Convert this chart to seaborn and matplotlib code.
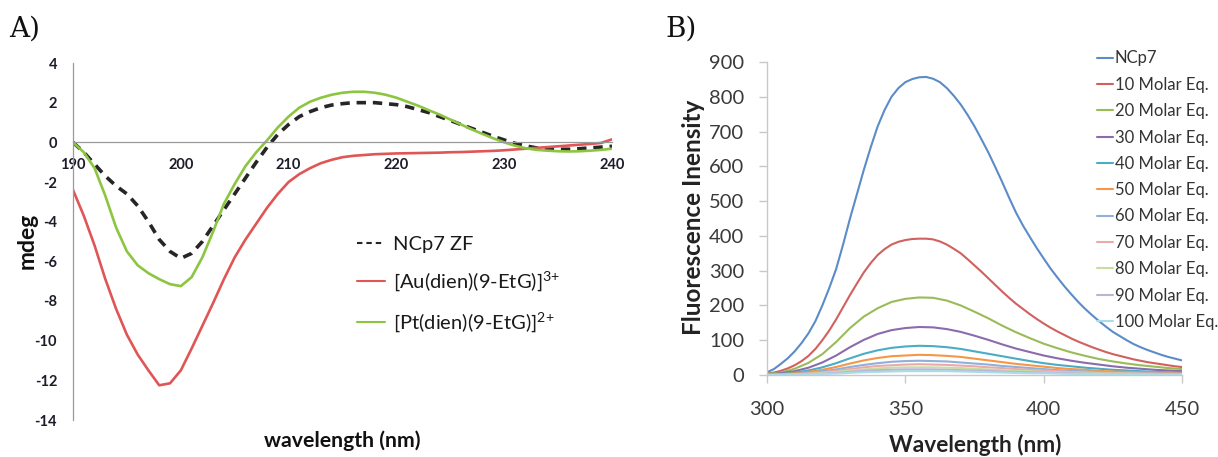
import matplotlib
matplotlib.use("Agg")
import matplotlib.pyplot as plt
import numpy as np
import pandas as pd
import seaborn as sns

sns.set_style("white")
plt.rcParams["font.family"] = ["Lato", "DejaVu Sans"]
plt.rcParams["mathtext.default"] = "regular"
plt.rcParams["axes.unicode_minus"] = False

# ---- Circular dichroism spectra (mdeg), 190-240 nm ----
cd_wavelength = list(range(190, 241))
cd_ncp7 = [0, -0.5, -1.1, -1.7, -2.2, -2.6, -3.2, -4.0, -4.9, -5.5,
           -5.85, -5.6, -5.0, -4.2, -3.4, -2.6, -1.8, -1.0, -0.25, 0.4,
           0.9, 1.3, 1.55, 1.75, 1.88, 1.95, 2.0, 2.0, 2.0, 1.95,
           1.9, 1.8, 1.65, 1.5, 1.3, 1.1, 0.9, 0.7, 0.5, 0.3,
           0.12, -0.05, -0.18, -0.28, -0.33, -0.35, -0.35, -0.32, -0.28, -0.24,
           -0.2]
cd_au = [-2.4, -3.7, -5.2, -6.9, -8.4, -9.7, -10.7, -11.5, -12.25, -12.15,
         -11.5, -10.4, -9.25, -8.1, -6.9, -5.8, -4.9, -4.1, -3.3, -2.6,
         -2.0, -1.6, -1.3, -1.05, -0.88, -0.75, -0.68, -0.64, -0.6, -0.58,
         -0.56, -0.55, -0.54, -0.53, -0.52, -0.5, -0.49, -0.47, -0.45, -0.43,
         -0.4, -0.36, -0.32, -0.28, -0.24, -0.2, -0.16, -0.12, -0.08, -0.03,
         0.15]
cd_pt = [0, -0.5, -1.3, -2.7, -4.3, -5.5, -6.2, -6.6, -6.9, -7.15,
         -7.25, -6.8, -5.8, -4.5, -3.1, -2.1, -1.2, -0.5, 0.1, 0.75,
         1.3, 1.75, 2.05, 2.25, 2.4, 2.5, 2.55, 2.55, 2.5, 2.4,
         2.25, 2.05, 1.85, 1.62, 1.4, 1.15, 0.9, 0.65, 0.42, 0.2,
         0.0, -0.17, -0.3, -0.38, -0.42, -0.45, -0.46, -0.45, -0.42, -0.38,
         -0.32]
cd_labels = ["NCp7 ZF", "[Au(dien)(9-EtG)]$^{3{+}}$", "[Pt(dien)(9-EtG)]$^{2{+}}$"]

# ---- Fluorescence emission titration, 300-450 nm ----
fl_wavelength_fine = [300 + 2.5 * i for i in range(61)]
fl_wavelength = list(range(300, 451, 5))
fl_labels = ["NCp7", "10 Molar Eq.", "20 Molar Eq.", "30 Molar Eq.", "40 Molar Eq.",
             "50 Molar Eq.", "60 Molar Eq.", "70 Molar Eq.", "80 Molar Eq.",
             "90 Molar Eq.", "100 Molar Eq."]
# the two strongest spectra, sampled every 2.5 nm
fl_ncp7 = [8, 17, 32, 48, 68, 92, 120, 155, 200, 250,
           305, 375, 450, 520, 590, 655, 715, 762, 800, 825,
           842, 851, 856, 857, 852, 842, 825, 803, 778, 748,
           715, 678, 640, 598, 555, 510, 467, 430, 397, 365,
           335, 306, 280, 255, 232, 210, 190, 172, 155, 139,
           124, 112, 100, 89, 80, 72, 65, 58, 52, 47,
           42]
fl_eq10 = [4, 7, 12, 19, 28, 40, 55, 75, 100, 128,
           160, 195, 230, 263, 295, 322, 345, 362, 375, 383,
           388, 391, 392, 392, 390, 384, 375, 363, 350, 333,
           315, 297, 278, 259, 240, 222, 205, 190, 175, 161,
           148, 136, 125, 115, 105, 96, 88, 80, 73, 66,
           60, 55, 50, 45, 41, 37, 34, 31, 28, 25,
           23]
# the weaker spectra, sampled every 5 nm
fl_eq20 = [3, 7, 18, 35, 60, 95, 135, 168, 192, 210, 219, 223, 222, 214, 200, 182,
           163, 142, 123, 106, 90, 77, 65, 55, 46, 39, 33, 28, 24, 20, 17]
fl_eq30 = [2, 5, 11, 21, 36, 56, 80, 101, 118, 129, 135, 138, 137, 132, 124, 113,
           101, 88, 76, 66, 56, 48, 41, 35, 30, 25, 21, 18, 15, 13, 11]
fl_eq40 = [1, 3, 7, 13, 22, 34, 48, 61, 71, 78, 82, 84, 83, 80, 75, 68,
           61, 54, 47, 40, 34, 29, 25, 21, 18, 15, 13, 11, 9, 8, 7]
fl_eq50 = [1, 2, 5, 9, 15, 23, 33, 42, 49, 54, 56, 58, 57, 55, 52, 47,
           42, 37, 32, 28, 24, 20, 17, 15, 12, 10, 9, 8, 7, 6, 5]
fl_eq60 = [1, 1, 3, 6, 11, 16, 23, 29, 34, 38, 40, 41, 40, 39, 36, 33,
           30, 26, 23, 20, 17, 14, 12, 10, 9, 7, 6, 5, 5, 4, 4]
fl_eq70 = [1, 1, 2, 5, 8, 12, 17, 22, 26, 28, 30, 31, 30, 29, 27, 25,
           22, 20, 17, 15, 13, 11, 9, 8, 7, 6, 5, 4, 4, 3, 3]
fl_eq80 = [0, 1, 2, 3, 6, 9, 13, 16, 19, 21, 22, 22, 22, 21, 20, 18,
           16, 14, 12, 11, 9, 8, 7, 6, 5, 4, 4, 3, 3, 2, 2]
fl_eq90 = [0, 1, 1, 2, 4, 6, 9, 12, 14, 15, 16, 16, 16, 15, 14, 13,
           12, 10, 9, 8, 7, 6, 5, 4, 4, 3, 3, 2, 2, 2, 2]
fl_eq100 = [0, 0, 1, 2, 3, 4, 6, 8, 9, 10, 11, 11, 11, 11, 10, 9,
            8, 7, 6, 5, 5, 4, 3, 3, 3, 2, 2, 2, 1, 1, 1]
fl_series = [fl_ncp7, fl_eq10, fl_eq20, fl_eq30, fl_eq40, fl_eq50,
             fl_eq60, fl_eq70, fl_eq80, fl_eq90, fl_eq100]
fl_colors = ["#5B8CC8", "#D0615E", "#9BBB59", "#8A6CAC", "#4BACC6", "#F79646",
             "#8FB0DA", "#EBAAAA", "#C8DDA0", "#BFB2D6", "#A8DCEA"]

fig = plt.figure(figsize=(12.18, 4.57), dpi=100)

# ---------------- Panel A ----------------
ax_a = fig.add_axes([73 / 1218, 1 - 420 / 457, 539 / 1218, 357 / 457])
cd_df = pd.DataFrame({"wavelength": cd_wavelength * 3,
                      "mdeg": cd_ncp7 + cd_au + cd_pt,
                      "sample": [cd_labels[0]] * 51 + [cd_labels[1]] * 51 + [cd_labels[2]] * 51})
sns.lineplot(data=cd_df, x="wavelength", y="mdeg", hue="sample", style="sample",
             palette=["#262626", "#E05555", "#8CC540"],
             dashes=[(2.6, 1.9), "", ""], ax=ax_a, legend=True)
for line, lw in zip(ax_a.lines, [2.6, 1.9, 1.9]):
    line.set_linewidth(lw)

ax_a.set_xlim(190, 240)
ax_a.set_ylim(-14, 4)
ax_a.set_xticks([190, 200, 210, 220, 230, 240])
ax_a.set_yticks(range(-14, 5, 2))
for side in ["top", "right"]:
    ax_a.spines[side].set_visible(False)
ax_a.spines["bottom"].set_position(("data", 0))
for side in ["left", "bottom"]:
    ax_a.spines[side].set_color("#9a9a9a")
    ax_a.spines[side].set_linewidth(0.9)
ax_a.tick_params(axis="x", length=0, pad=11, labelsize=10.5, labelcolor="#1c1c2a")
ax_a.tick_params(axis="y", length=0, pad=11.5, labelsize=10.5, labelcolor="#1c1c2a")
for lab in ax_a.get_xticklabels() + ax_a.get_yticklabels():
    lab.set_fontweight("bold")

ax_a.set_xlabel("wavelength (nm)", fontsize=15.3, fontweight="bold", color="#111111")
ax_a.set_ylabel("mdeg", fontsize=16.5, fontweight="bold", color="#111111")
ax_a.xaxis.set_label_coords(0.5, -0.059)
ax_a.xaxis.label.set_va("center")
ax_a.yaxis.set_label_coords(-0.085, 0.501)
ax_a.yaxis.label.set_va("center")

handles, labels = ax_a.get_legend_handles_labels()
ax_a.legend(handles, labels, loc="upper left", bbox_to_anchor=(357 / 1218, 1 - 235.5 / 457),
            bbox_transform=fig.transFigure, frameon=False, fontsize=14.5,
            handlelength=1.4, handletextpad=0.4, labelspacing=0.85,
            borderpad=0, borderaxespad=0, labelcolor="#1a1a1a")

# ---------------- Panel B ----------------
ax_b = fig.add_axes([767 / 1218, 1 - 375 / 457, 415 / 1218, 313 / 457])
fl_frames = []
for lab, vals in zip(fl_labels, fl_series):
    xs = fl_wavelength_fine if len(vals) == len(fl_wavelength_fine) else fl_wavelength
    fl_frames.append(pd.DataFrame({"wavelength": xs, "intensity": vals, "sample": lab}))
fl_df = pd.concat(fl_frames, ignore_index=True)
sns.lineplot(data=fl_df, x="wavelength", y="intensity", hue="sample",
             hue_order=fl_labels, palette=fl_colors, linewidth=1.5,
             ax=ax_b, legend=True)
ax_b.set_xlim(300, 450)
ax_b.set_ylim(0, 900)
ax_b.set_xticks([300, 350, 400, 450])
ax_b.set_yticks(range(0, 901, 100))
for side in ["top", "right"]:
    ax_b.spines[side].set_visible(False)
for side in ["left", "bottom"]:
    ax_b.spines[side].set_color("#c8c8c8")
    ax_b.spines[side].set_linewidth(1.0)
ax_b.tick_params(axis="both", direction="out", length=6, width=1.0, color="#c8c8c8",
                 labelsize=14.5, labelcolor="#3a3a3a", left=True, bottom=True)
ax_b.tick_params(axis="x", pad=13)
ax_b.tick_params(axis="y", pad=10.5)
ax_b.set_xlabel("Wavelength (nm)", fontsize=16.3, fontweight="bold", color="#222222")
ax_b.set_ylabel("Fluorescence Inensity", fontsize=17.5, fontweight="bold", color="#222222")
ax_b.xaxis.set_label_coords(0.501, -0.224)
ax_b.xaxis.label.set_va("center")
ax_b.yaxis.set_label_coords(-0.178, 0.505)
ax_b.yaxis.label.set_va("center")

handles, labels = ax_b.get_legend_handles_labels()
ax_b.legend(handles, labels, loc="upper left", bbox_to_anchor=(1097 / 1218, 1 - 50.5 / 457),
            bbox_transform=fig.transFigure, frameon=False, fontsize=12,
            handlelength=0.96, handletextpad=0.1, labelspacing=0.62,
            borderpad=0, borderaxespad=0, labelcolor="#333333")

# Panel letters
fig.text(9 / 1218, 1 - 29 / 457, "A)", fontsize=20, family="DejaVu Serif",
         va="center", ha="left", color="#111111")
fig.text(665 / 1218, 1 - 29 / 457, "B)", fontsize=20, family="DejaVu Serif",
         va="center", ha="left", color="#111111")

fig.savefig("out.png", dpi=100)
